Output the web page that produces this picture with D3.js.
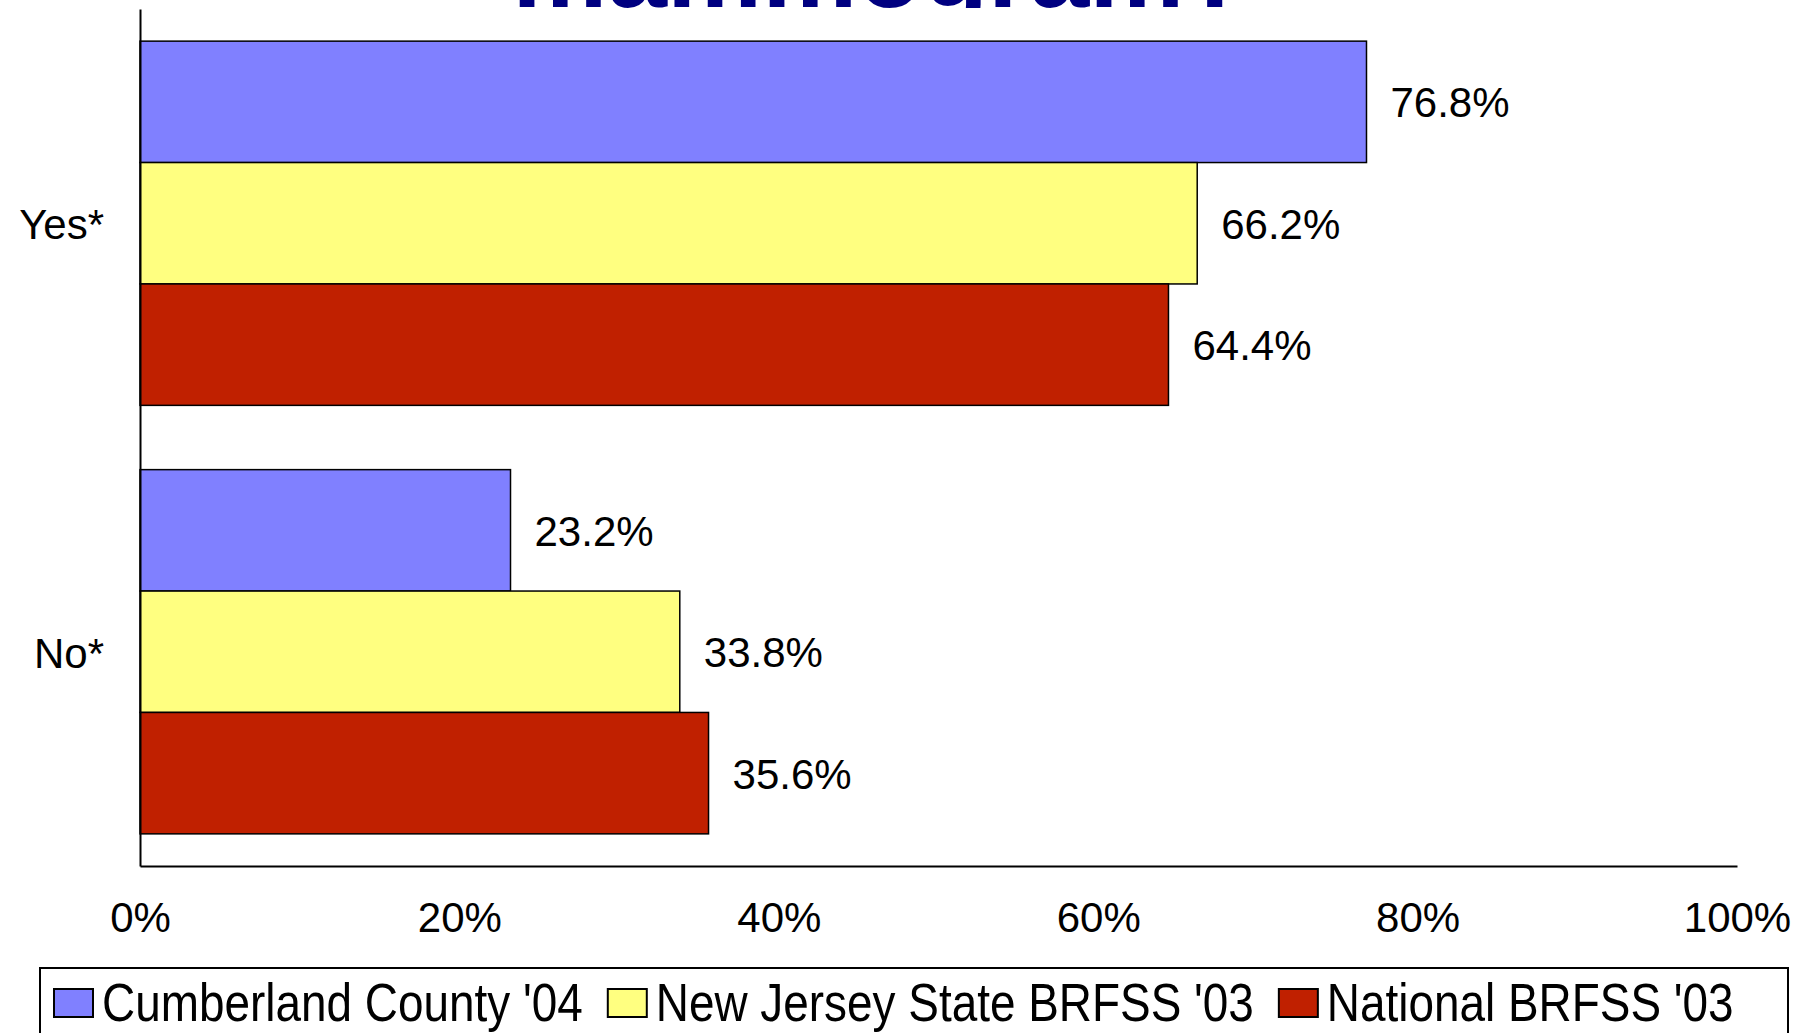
<html>
<head>
<script src="https://d3js.org/d3.v7.min.js"></script>
<style>
  body { margin: 0; background: #fff; }
  text { font-family: Arial, "Liberation Sans", sans-serif; }
</style>
</head>
<body>
<svg id="chart" width="1812" height="1033"></svg>
<script>
const categories = ["Yes*", "No*"];
const seriesNames = ["Cumberland County '04", "New Jersey State BRFSS '03", "National BRFSS '03"];
const seriesColors = ["#8080FF", "#FFFF80", "#C02000"];
const values = [
  [76.8, 66.2, 64.4],
  [23.2, 33.8, 35.6]
];
const xTicks = [0, 20, 40, 60, 80, 100];
const titleText = "mammogram?";

const svg = d3.select("#chart");

const plotLeft = 140, plotRight = 1737, plotTop = 9, plotBottom = 866;

const x = d3.scaleLinear().domain([0, 100]).range([plotLeft, plotRight]);
const y = d3.scaleBand().domain(categories).range([plotTop, plotBottom])
  .paddingInner(0.15).paddingOuter(0.075);
const ySub = d3.scaleBand().domain(seriesNames).range([0, y.bandwidth()]);

// title - only its bottom edge shows in the original, the rest is cut off
svg.append("defs").append("clipPath").attr("id", "titleClip")
  .append("rect").attr("x", 0).attr("y", 0).attr("width", 1812).attr("height", 8);
svg.append("text")
  .attr("clip-path", "url(#titleClip)")
  .attr("x", 881).attr("y", 7)
  .attr("text-anchor", "middle")
  .attr("font-size", 107).attr("font-weight", "bold")
  .attr("fill", "#000080")
  .text(titleText);

// bars
categories.forEach((c, ci) => {
  const g = svg.append("g").attr("transform", `translate(0,${y(c)})`);
  values[ci].forEach((v, si) => {
    g.append("rect")
      .attr("x", x(0))
      .attr("y", ySub(seriesNames[si]))
      .attr("width", x(v) - x(0))
      .attr("height", ySub.bandwidth())
      .attr("fill", seriesColors[si])
      .attr("stroke", "#000").attr("stroke-width", 1.5);
    g.append("text")
      .attr("x", x(v) + 24)
      .attr("y", ySub(seriesNames[si]) + ySub.bandwidth() / 2)
      .attr("dy", "0.37em")
      .attr("font-size", 42)
      .text(v.toFixed(1) + "%");
  });
});

// axes
const xAxis = svg.append("g").attr("transform", `translate(0,${plotBottom})`)
  .call(d3.axisBottom(x).tickValues(xTicks).tickSize(0).tickPadding(36).tickFormat(d => d + "%"));
xAxis.select(".domain").attr("stroke", "#000").attr("stroke-width", 2);
xAxis.selectAll("text").attr("font-size", 42).attr("fill", "#000")
  .attr("font-family", "Arial, 'Liberation Sans', sans-serif");

const yAxis = svg.append("g").attr("transform", `translate(${plotLeft},0)`)
  .call(d3.axisLeft(y).tickSize(0).tickPadding(36));
yAxis.select(".domain").attr("stroke", "#000").attr("stroke-width", 2);
yAxis.selectAll("text").attr("font-size", 42).attr("fill", "#000")
  .attr("font-family", "Arial, 'Liberation Sans', sans-serif")
  .attr("dy", "0.38em");

// legend
svg.append("rect")
  .attr("x", 40).attr("y", 968).attr("width", 1748).attr("height", 90)
  .attr("fill", "none").attr("stroke", "#000").attr("stroke-width", 2);

let lx = 54;
seriesNames.forEach((name, i) => {
  svg.append("rect")
    .attr("x", lx).attr("y", 989).attr("width", 39).attr("height", 28)
    .attr("fill", seriesColors[i]).attr("stroke", "#000").attr("stroke-width", 2);
  const t = svg.append("text")
    .attr("x", lx + 48).attr("y", 1021)
    .attr("font-size", 54)
    .text(name);
  const w = t.node().getComputedTextLength() * 0.85;
  t.attr("textLength", w).attr("lengthAdjust", "spacingAndGlyphs");
  lx += 48 + w + 25;
});
</script>
</body>
</html>
